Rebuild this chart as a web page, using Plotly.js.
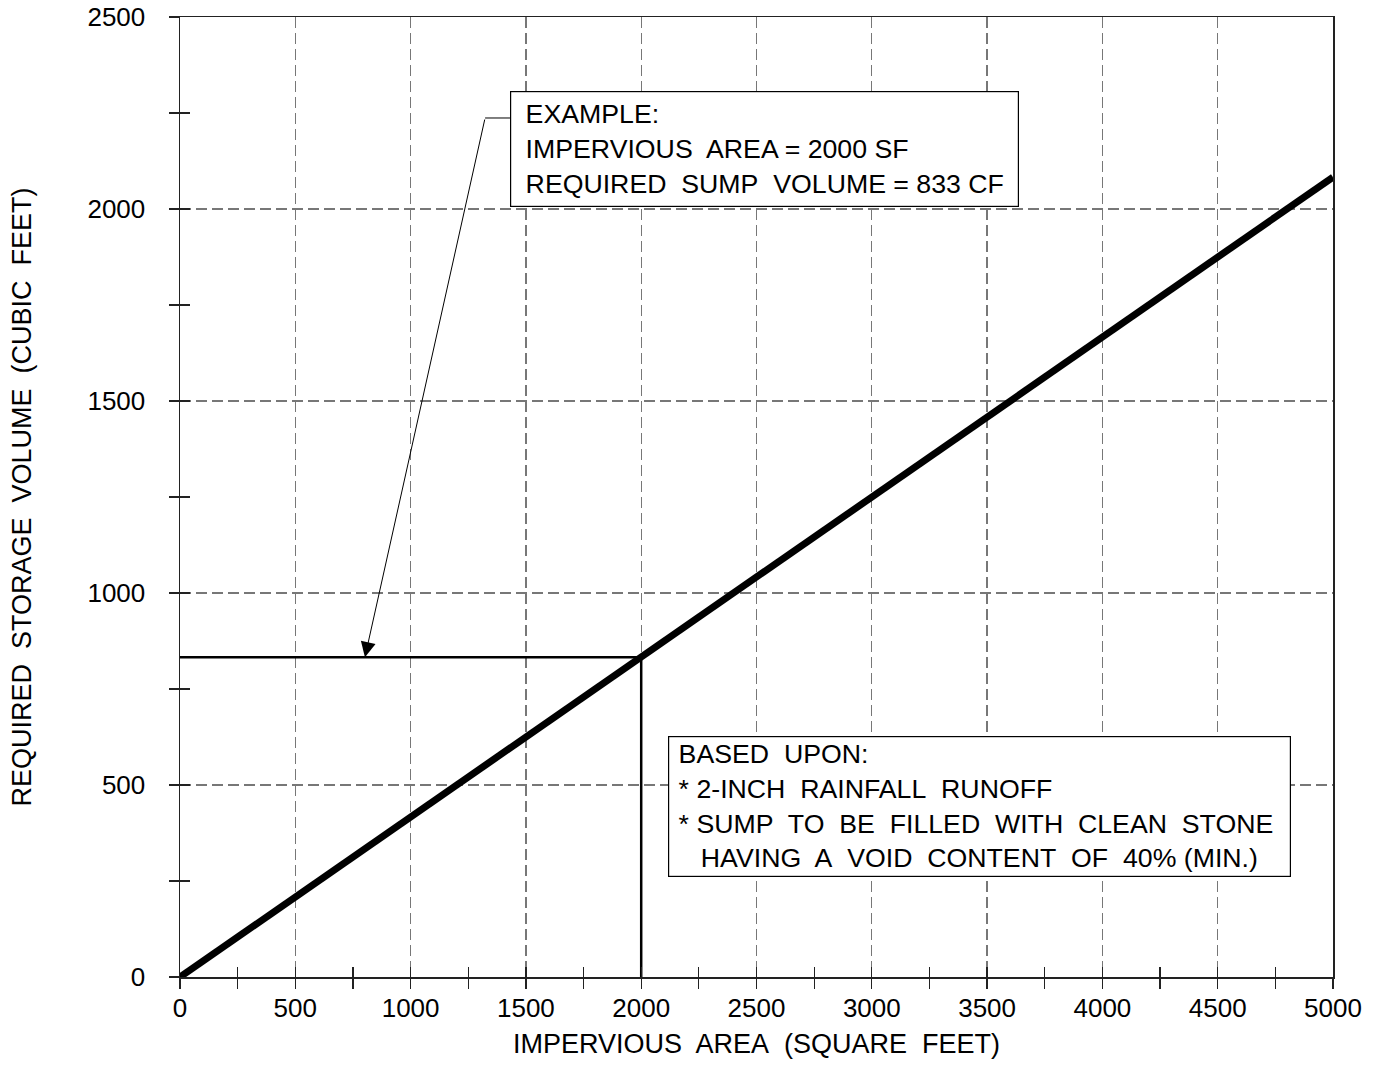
<!DOCTYPE html>
<html>
<head>
<meta charset="utf-8">
<script src="https://cdn.plot.ly/plotly-3.0.1.min.js"></script>
<style>html,body{margin:0;padding:0;background:#fff;}#chart{width:1377px;height:1089px;}</style>
</head>
<body>
<div id="chart"></div>
<script>
// Design curve: impervious area (sq ft) vs required storage volume (cu ft)
const imperviousArea = [0, 5000];
const storageVolume = [0, 2083];

// Worked example (2000 SF -> 833 CF)
const exampleArea = [0, 2000, 2000];
const exampleVolume = [833, 833, 0];

// Leader for the example note
const leaderArea = [1431, 1323];
const leaderVolume = [2237, 2237];
const arrowTip = {x: 802, y: 833};

const xTitle = "IMPERVIOUS\u00A0 AREA\u00A0 (SQUARE\u00A0 FEET)";
const yTitle = "REQUIRED\u00A0 STORAGE\u00A0 VOLUME\u00A0 (CUBIC\u00A0 FEET)";
const exampleNote = ["\u00A0EXAMPLE:", "\u00A0IMPERVIOUS\u00A0 AREA = 2000 SF", "\u00A0REQUIRED\u00A0 SUMP\u00A0 VOLUME = 833 CF\u00A0"];
const basisNote = ["\u00A0BASED\u00A0 UPON:", "\u00A0* 2-INCH\u00A0 RAINFALL\u00A0 RUNOFF",
  "\u00A0* SUMP\u00A0 TO\u00A0 BE\u00A0 FILLED\u00A0 WITH\u00A0 CLEAN\u00A0 STONE\u00A0\u00A0",
  "\u00A0\u00A0\u00A0 HAVING\u00A0 A\u00A0 VOID\u00A0 CONTENT\u00A0 OF\u00A0 40% (MIN.)"];

const FONT = "Liberation Sans, Arial, Helvetica, sans-serif";
const AX = '#222';

const traces = [
  {x: exampleArea, y: exampleVolume, mode: 'lines', line: {color: '#000', width: 2.5}, showlegend: false, hoverinfo: 'skip'},
  {x: leaderArea, y: leaderVolume, mode: 'lines', line: {color: '#000', width: 1}, showlegend: false, hoverinfo: 'skip'},
  {x: imperviousArea, y: storageVolume, mode: 'lines', line: {color: '#000', width: 7}, showlegend: false},
  {x: [], y: [], xaxis: 'x2', yaxis: 'y2', showlegend: false}
];

const baseX = {range: [0, 5000], dtick: 500, tick0: 0, autorange: false, zeroline: false,
  linecolor: AX, linewidth: 1.5, tickcolor: AX, tickwidth: 1.2, ticklen: 10};
const baseY = {range: [0, 2500], dtick: 500, tick0: 0, autorange: false, zeroline: false,
  linecolor: AX, linewidth: 1.5, tickcolor: AX, tickwidth: 1.2, ticklen: 10};

const layout = {
  width: 1377, height: 1089,
  margin: {l: 180, r: 44, t: 17, b: 112},
  paper_bgcolor: '#fff', plot_bgcolor: '#fff',
  font: {family: FONT, size: 26, color: '#000'},
  xaxis: Object.assign({}, baseX, {
    showline: true, mirror: true, ticks: 'outside',
    showgrid: true, gridcolor: '#777', gridwidth: 1.2, griddash: '11px,5px',
    minor: {dtick: 250, ticks: 'outside', ticklen: 10, tickcolor: AX, tickwidth: 1.2, showgrid: false},
    tickfont: {size: 26}, ticklabelstandoff: -3,
    title: {text: xTitle, font: {size: 27}, standoff: 12}
  }),
  yaxis: Object.assign({}, baseY, {
    showline: true, mirror: true, ticks: 'outside',
    showgrid: true, gridcolor: '#777', gridwidth: 1.2, griddash: '11px,5px',
    minor: {dtick: 250, ticks: 'outside', ticklen: 10, tickcolor: AX, tickwidth: 1.2, showgrid: false},
    tickfont: {size: 26}, ticklabelstandoff: 18,
    title: {text: yTitle, font: {size: 27}, standoff: 48}
  }),
  xaxis2: Object.assign({}, baseX, {
    overlaying: 'x', anchor: 'y2', side: 'bottom', showline: false, ticks: 'inside',
    showticklabels: false, showgrid: false,
    minor: {dtick: 250, ticks: 'inside', ticklen: 10, tickcolor: AX, tickwidth: 1.2, showgrid: false}
  }),
  yaxis2: Object.assign({}, baseY, {
    overlaying: 'y', anchor: 'x2', side: 'left', showline: false, ticks: 'inside',
    showticklabels: false, showgrid: false,
    minor: {dtick: 250, ticks: 'inside', ticklen: 10, tickcolor: AX, tickwidth: 1.2, showgrid: false}
  }),
  annotations: [
    {x: arrowTip.x, y: arrowTip.y, xref: 'x', yref: 'y', ax: leaderArea[1], ay: leaderVolume[1],
     axref: 'x', ayref: 'y', text: '', showarrow: true, arrowhead: 2, arrowsize: 3, arrowwidth: 1, arrowcolor: '#000'},
    {x: leaderArea[0], y: 2307, xref: 'x', yref: 'y', xanchor: 'left', yanchor: 'top',
     text: exampleNote.join('<br>'), align: 'left', showarrow: false,
     font: {family: FONT, size: 26.7, color: '#000'},
     bgcolor: '#fff', bordercolor: '#000', borderwidth: 1.2, borderpad: 7},
    {x: 2116, y: 628, xref: 'x', yref: 'y', xanchor: 'left', yanchor: 'top',
     text: basisNote.join('<br>'), align: 'left', showarrow: false,
     font: {family: FONT, size: 26.7, color: '#000'},
     bgcolor: '#fff', bordercolor: '#000', borderwidth: 1.2, borderpad: 2}
  ]
};

Plotly.newPlot('chart', traces, layout, {staticPlot: true, displayModeBar: false});
</script>
</body>
</html>
